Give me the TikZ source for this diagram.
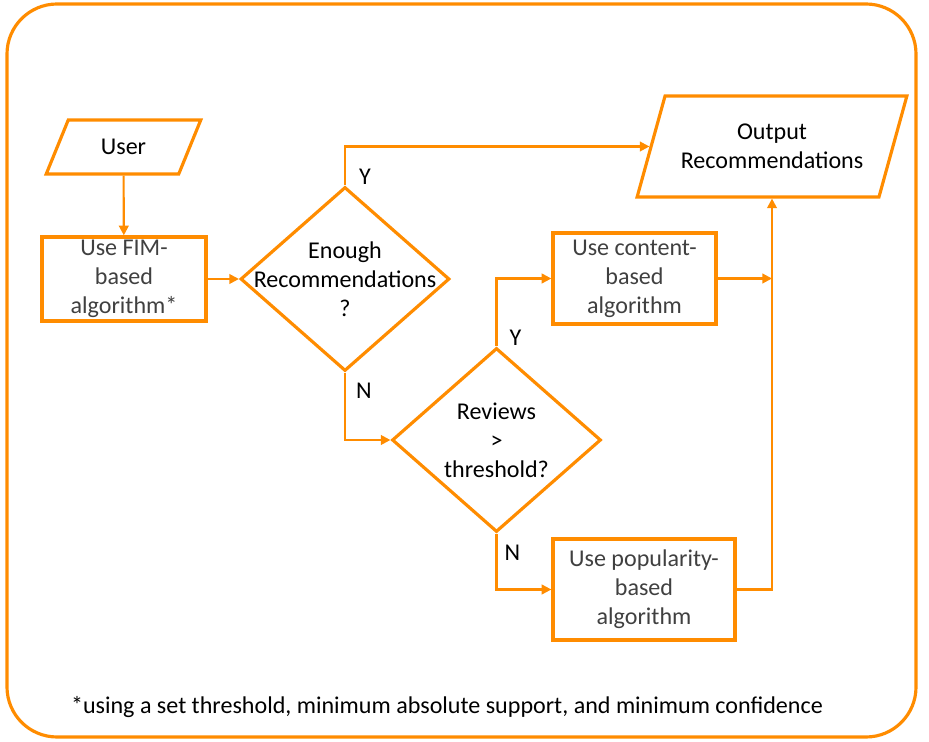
\documentclass[tikz,border=0pt]{standalone}
\usepackage{fontspec}
\setmainfont{Carlito}
\usetikzlibrary{shapes.geometric,arrows.meta,positioning,calc}
\definecolor{FlowOrange}{RGB}{255,140,0}
\definecolor{TextGray}{RGB}{64,64,64}
\newcommand{\flowfont}{\fontsize{13.7}{16.5}\selectfont}
\tikzset{
  iobox/.style={trapezium,trapezium left angle=60,trapezium right angle=120,
                trapezium stretches=true,draw=FlowOrange,line width=1.8pt,
                inner sep=0pt,align=center,text=black},
  procbox/.style={rectangle,draw=FlowOrange,line width=1.9pt,
                  inner sep=0pt,align=center,text=TextGray},
  decbox/.style={diamond,draw=FlowOrange,line width=1.8pt,
                 minimum width=4.18cm,minimum height=3.68cm,inner sep=0pt},
  yn/.style={inner sep=0pt,text=black},
  arr/.style={-{Triangle[length=5.5pt,width=5.5pt]},FlowOrange,line width=1.2pt},
}

\begin{document}
\begin{tikzpicture}[x=0.02cm,y=-0.02cm,font=\flowfont]
  \useasboundingbox (0,0) rectangle (929,742);
  \draw[FlowOrange,line width=1.8pt,rounded corners=1cm] (7,4) rectangle (916,737);

  \node[iobox,minimum width=3.1cm,minimum height=1.08cm] (user) at (123.5,147) {User};
  \node[procbox,minimum width=3.28cm,minimum height=1.68cm] (fim) at (124,279) {Use FIM-\\based\\algorithm*};
  \node[decbox,label={[align=center]center:Enough\\Recommendations\\?}] (enough) at (345,279) {};
  \node[decbox,label={[align=center]center:Reviews\\>\\threshold?}] (reviews) at (496.5,440) {};
  \node[procbox,minimum width=3.26cm,minimum height=1.82cm] (content) at (634.5,278.5) {Use content-\\based\\algorithm};
  \node[procbox,minimum width=3.64cm,minimum height=2.02cm] (popular) at (644,589.5) {Use popularity-\\based\\algorithm};
  \node[iobox,trapezium left angle=62,trapezium right angle=118,
        minimum width=5.4cm,minimum height=2.02cm] (output) at (772,146.5) {Output\\Recommendations};

  \node (note) at (447,707) {*using a set threshold, minimum absolute support, and minimum confidence};

  \draw[arr] (user) -- (fim);
  \draw[arr] (fim) -- (enough);
  \draw[arr] (enough.north) |- node[yn,pos=0,anchor=south west,xshift=0.26cm]{Y} (output.west);
  \draw[arr] (enough.south) |- node[yn,pos=0,anchor=north west,xshift=0.2cm,yshift=-0.18cm]{N} (reviews.west);
  \draw[arr] (reviews.north) |- node[yn,pos=0,anchor=south west,xshift=0.24cm]{Y} (content.west);
  \draw[arr] (reviews.south) |- node[yn,pos=0,anchor=north west,xshift=0.14cm,yshift=-0.2cm]{N} (popular.west);
  \draw[arr] (content.east) -- (content.east -| output.center);
  \draw[arr] (popular.east) -| (output.center |- output.south);
\end{tikzpicture}
\end{document}
